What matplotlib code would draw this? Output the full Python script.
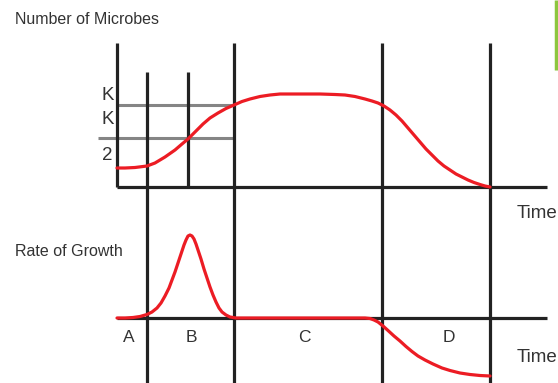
import matplotlib
matplotlib.use("Agg")
import matplotlib.pyplot as plt

plt.rcParams['font.family'] = ['Liberation Sans', 'DejaVu Sans']

# ---- data (time in pixel-like units along the shared time axis) ----
time_n = [117, 125, 135, 147, 155, 165, 175, 182, 188, 195, 203, 210, 218, 226, 234,
          242, 250, 260, 270, 280, 300, 320, 335, 345, 355, 365, 372, 378, 384, 390,
          396, 402, 408, 414, 420, 426, 432, 438, 444, 450, 456, 462, 468, 474, 480,
          485, 490]
microbes = [19, 19, 19.5, 21, 24, 30, 37, 43, 48, 55, 63, 69, 74, 78.5, 82,
            85.5, 88, 90.5, 92, 93, 93, 93, 92.5, 92, 90.5, 88, 86, 84, 81, 77,
            72, 66, 59, 52, 45, 38, 32, 26, 21, 17, 13, 10, 7, 4.5, 2.5,
            1, 0]

time_r = [117, 125, 133, 140, 147, 152, 157, 161, 165, 169, 172, 175, 178, 181, 184,
          186, 188, 190, 192, 194, 196, 198, 201, 204, 207, 210, 213, 216, 219, 222,
          226, 230, 236, 250, 300, 365, 370, 374, 378, 383, 388, 394, 400, 406, 412,
          418, 425, 433, 442, 450, 460, 470, 480, 490]
rate = [0, 0, 0.5, 1.5, 3.5, 6, 10, 15, 22, 30, 38, 46, 55, 64, 73,
        78, 82, 83, 82, 79, 74, 68, 59, 49, 40, 31, 23, 16, 10, 6,
        3, 1, 0, 0, 0, 0, -0.5, -2, -4, -8, -12.5, -18, -23, -28.5, -33.5,
        -38, -42, -46, -50, -52.5, -55, -56.5, -57.5, -58]

phase_bounds = [147, 234, 382, 490]
phase_labels = ['A', 'B', 'C', 'D']
phase_label_x = [129, 191, 304, 449]
k_levels = [82, 49]  # K and K/2 heights

TOP_BASE = 187
BOT_BASE = 318
ORIGIN = 117

fig = plt.figure(figsize=(5.58, 3.83), dpi=100)
ax = fig.add_axes([0, 0, 1, 1])
ax.set_xlim(0, 558)
ax.set_ylim(383, 0)
ax.axis('off')

black = '#222222'
gray = '#858585'
red = '#ec1c24'
txt = '#333333'
lw = 2.3

# gray K lines
ax.plot([ORIGIN, 234], [TOP_BASE - k_levels[0]] * 2, color=gray, lw=2.2, solid_capstyle='butt', zorder=1)
ax.plot([98, 234], [TOP_BASE - k_levels[1]] * 2, color=gray, lw=2.2, solid_capstyle='butt', zorder=1)

# axes
ax.plot([ORIGIN, ORIGIN], [43, TOP_BASE], color=black, lw=lw, solid_capstyle='butt', zorder=2)
ax.plot([ORIGIN, 547], [TOP_BASE, TOP_BASE], color=black, lw=lw, solid_capstyle='butt', zorder=2)
ax.plot([ORIGIN, 547], [BOT_BASE, BOT_BASE], color=black, lw=lw, solid_capstyle='butt', zorder=2)

# vertical phase lines
ax.plot([147, 147], [72, 383], color=black, lw=lw, solid_capstyle='butt', zorder=2)
ax.plot([188, 188], [72, TOP_BASE], color=black, lw=lw, solid_capstyle='butt', zorder=2)
for xb in phase_bounds[1:]:
    ax.plot([xb, xb], [43, 383], color=black, lw=lw, solid_capstyle='butt', zorder=2)

# curves
ax.plot(time_n, [TOP_BASE - v for v in microbes], color=red, lw=2.3,
        solid_joinstyle='round', solid_capstyle='round', zorder=3)
ax.plot(time_r, [BOT_BASE - v for v in rate], color=red, lw=2.3,
        solid_joinstyle='round', solid_capstyle='round', zorder=3)

# green accent
ax.plot([556, 556], [0, 70], color='#8dc63f', lw=2.5, solid_capstyle='butt')

# texts
ax.text(15, 20, 'Number of Microbes', fontsize=11.5, color=txt, va='center', ha='left')
ax.text(15, 251, 'Rate of Growth', fontsize=11.5, color=txt, va='center', ha='left')
ax.text(517, 214, 'Time', fontsize=13.5, color=txt, va='center', ha='left')
ax.text(517, 357, 'Time', fontsize=13.5, color=txt, va='center', ha='left')
ax.text(108, 96, 'K', fontsize=13.5, color=txt, va='center', ha='center')
ax.text(108, 120, 'K', fontsize=13.5, color=txt, va='center', ha='center')
ax.text(107, 155, '2', fontsize=13.5, color=txt, va='center', ha='center')
for lab, xl in zip(phase_labels, phase_label_x):
    ax.text(xl, 338, lab, fontsize=12.5, color=txt, va='center', ha='center')

fig.savefig('out.png', dpi=100)
